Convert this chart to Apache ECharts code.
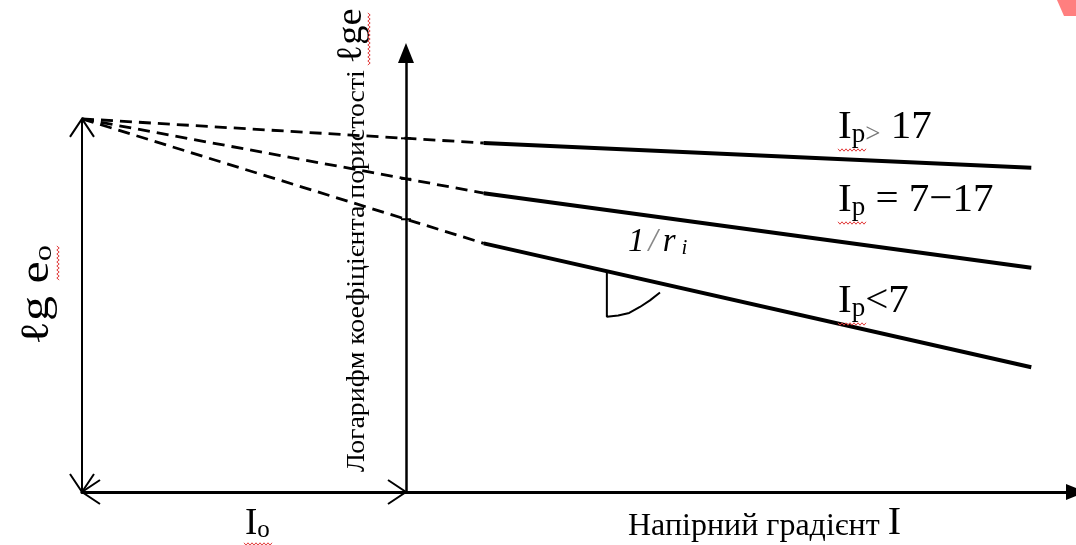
<!DOCTYPE html>
<html><head><meta charset="utf-8">
<script src="https://cdn.jsdelivr.net/npm/echarts@6/dist/echarts.min.js"></script>
<style>html,body{margin:0;padding:0;background:#fff}#c{width:1076px;height:545px}</style>
</head><body><div id="c"></div>
<script>
// ---------- data (schematic units) ----------
const lineNames = ['Ip > 17', 'Ip = 7-17', 'Ip < 7'];
const apex = [-10, 11.9];                 // (-I0 , lg e0)
const solidStartX = 2.4;
const solidEndX = 19.3;
const solidStartY = [11.13, 9.53, 7.93];
const solidEndY = [10.34, 7.15, 3.98];
const angleMarkX = [6.2, 6.2, 6.55, 6.89, 7.22, 7.53, 7.84];
const angleMarkY = [7.04, 5.59, 5.63, 5.71, 5.90, 6.11, 6.36];
const xExtent = [-10, 20.68];
const yExtent = [0, 14];

// ---------- derived ----------
const crossY = solidStartY.map(y => apex[1] + (y - apex[1]) * (0 - apex[0]) / (solidStartX - apex[0]));
const openArrows = [[apex[0], apex[1], 90], [apex[0], 0, 270], [apex[0], 0, 180], [0, 0, 0]];

const BLACK = '#000';
const SERIF = '"Liberation Serif", serif';

const series = [];
lineNames.forEach((n, i) => {
  series.push({
    name: n + ' (extrapolated)', type: 'line', symbol: 'none', silent: true, animation: false,
    data: [[apex[0], apex[1]], [solidStartX, solidStartY[i]]],
    lineStyle: { color: BLACK, width: 2.8, type: [12, 7] }
  });
  series.push({
    name: n, type: 'line', symbol: 'none', silent: true, animation: false,
    data: [[solidStartX, solidStartY[i]], [solidEndX, solidEndY[i]]],
    lineStyle: { color: BLACK, width: 4 }
  });
});
series.push({
  name: 'lg e0', type: 'line', symbol: 'none', silent: true, animation: false,
  data: [[apex[0], 0], [apex[0], apex[1]]],
  lineStyle: { color: BLACK, width: 2 }
});
series.push({
  name: 'angle', type: 'line', symbol: 'none', silent: true, animation: false,
  data: angleMarkX.map((x, i) => [x, angleMarkY[i]]),
  lineStyle: { color: BLACK, width: 2 }
});
series.push({
  name: 'open arrows', type: 'custom', silent: true, animation: false, clip: false,
  data: openArrows,
  renderItem: function (params, api) {
    const p = api.coord([api.value(0), api.value(1)]);
    const a = api.value(2) * Math.PI / 180;
    const dx = Math.cos(a), dy = -Math.sin(a);
    const back = 18, half = 12;
    const bx = p[0] - dx * back, by = p[1] - dy * back;
    const nx = -dy, ny = dx;
    return { type: 'polyline', shape: { points: [[bx + nx * half, by + ny * half], [p[0], p[1]], [bx - nx * half, by - ny * half]] },
      style: { stroke: BLACK, lineWidth: 2, fill: null } };
  }
});
series.push({
  name: 'ticks', type: 'custom', silent: true, animation: false, clip: false,
  data: crossY.map(y => [0, y]),
  renderItem: function (params, api) {
    const p = api.coord([api.value(0), api.value(1)]);
    return { type: 'line', shape: { x1: p[0] - 5, y1: p[1], x2: p[0] + 5, y2: p[1] },
      style: { stroke: BLACK, lineWidth: 2 } };
  }
});

function zig(x0, y0, len, vertical) {
  const pts = [];
  for (let t = 0, k = 0; t <= len; t += 2, k++) {
    const o = (k % 2 ? 1.2 : -1.2);
    pts.push(vertical ? [x0 + o, y0 + t] : [x0 + t, y0 + o]);
  }
  return { type: 'polyline', shape: { points: pts }, style: { stroke: '#e23b3b', lineWidth: 1, fill: null }, z: 10 };
}

// baseline = bottom - L/2 + 0.3375*f
const ipRich = {
  a: { fontFamily: SERIF, fontSize: 41, lineHeight: 41, verticalAlign: 'bottom', fill: BLACK },
  s: { fontFamily: SERIF, fontSize: 27, lineHeight: 22, verticalAlign: 'bottom', fill: BLACK },
  g: { fontFamily: SERIF, fontSize: 27, lineHeight: 22, verticalAlign: 'bottom', fill: '#777' }
};

const graphic = [
  { type: 'polygon', shape: { points: [[1057, 0], [1076, 0], [1076, 16], [1064, 16]] }, style: { fill: '#ff7f7f' } },
  { type: 'text', x: 838, y: 148, style: { text: '{a|I}{s|p}{g|>}{a| 17}', rich: ipRich, verticalAlign: 'bottom', align: 'left' } },
  { type: 'text', x: 838, y: 221, style: { text: '{a|I}{s|p}{a| = 7\u221217}', rich: ipRich, verticalAlign: 'bottom', align: 'left' } },
  { type: 'text', x: 838, y: 322, style: { text: '{a|I}{s|p}{a|<7}', rich: ipRich, verticalAlign: 'bottom', align: 'left' } },
  { type: 'text', x: 628, y: 259, style: { text: '{a|1}{g|/}{a|r}{s|i}', verticalAlign: 'bottom', align: 'left', rich: {
      a: { fontFamily: SERIF, fontStyle: 'italic', fontSize: 33, lineHeight: 33, verticalAlign: 'bottom', fill: BLACK, padding: [0, 4, 0, 0] },
      g: { fontFamily: SERIF, fontStyle: 'italic', fontSize: 33, lineHeight: 33, verticalAlign: 'bottom', fill: '#888', padding: [0, 5, 0, 0] },
      s: { fontFamily: SERIF, fontStyle: 'italic', fontSize: 21, lineHeight: 12, verticalAlign: 'bottom', fill: BLACK, padding: [0, 0, 0, 2] } } } },
  { type: 'text', x: 245, y: 543, style: { text: '{a|I}{s|o}', verticalAlign: 'bottom', align: 'left', rich: {
      a: { fontFamily: SERIF, fontSize: 37, lineHeight: 37, verticalAlign: 'bottom', fill: BLACK },
      s: { fontFamily: SERIF, fontSize: 25, lineHeight: 13, verticalAlign: 'bottom', fill: BLACK } } } },
  { type: 'text', x: 628, y: 543, style: { text: '{a|Напірний градієнт }{b|I}', verticalAlign: 'bottom', align: 'left', rich: {
      a: { fontFamily: SERIF, fontSize: 32, lineHeight: 35, verticalAlign: 'bottom', fill: BLACK },
      b: { fontFamily: SERIF, fontSize: 40, lineHeight: 40, verticalAlign: 'bottom', fill: BLACK } } } },
  { type: 'text', x: 370, y: 472, rotation: Math.PI / 2, scaleX: 1.07, style: { text: '{a|Логарифм коефіцієнта пористості }{b|\u2113ge}', verticalAlign: 'bottom', align: 'left', rich: {
      a: { fontFamily: SERIF, fontSize: 26, lineHeight: 28, verticalAlign: 'bottom', fill: BLACK },
      b: { fontFamily: SERIF, fontSize: 36, lineHeight: 36, verticalAlign: 'bottom', fill: BLACK } } } },
  { type: 'text', x: 57, y: 345, rotation: Math.PI / 2, scaleX: 1.25, style: { text: '{a|\u2113g e}{s|o}', verticalAlign: 'bottom', align: 'left', rich: {
      a: { fontFamily: SERIF, fontSize: 40, lineHeight: 40, verticalAlign: 'bottom', fill: BLACK },
      s: { fontFamily: SERIF, fontSize: 26, lineHeight: 20, verticalAlign: 'bottom', fill: BLACK } } } },
  zig(838, 150, 28, false), zig(838, 223, 28, false), zig(838, 324, 28, false),
  zig(244, 544, 28, false), zig(369, 13, 52, true), zig(58, 246, 34, true)
];

const chart = echarts.init(document.getElementById('c'), null, { renderer: 'canvas' });
chart.setOption({
  animation: false,
  backgroundColor: '#fff',
  grid: { left: 82, right: 0, top: 53, bottom: 53 },
  xAxis: {
    type: 'value', min: xExtent[0], max: xExtent[1],
    axisLine: { show: true, onZero: true, symbol: ['none', 'triangle'], symbolSize: [16, 20], lineStyle: { color: BLACK, width: 3 } },
    axisTick: { show: false }, axisLabel: { show: false }, splitLine: { show: false }
  },
  yAxis: {
    type: 'value', min: yExtent[0], max: yExtent[1],
    axisLine: { show: true, onZero: true, symbol: ['none', 'triangle'], symbolSize: [16, 20], lineStyle: { color: BLACK, width: 2.5 } },
    axisTick: { show: false }, axisLabel: { show: false }, splitLine: { show: false }
  },
  series: series,
  graphic: graphic
});
</script></body></html>
